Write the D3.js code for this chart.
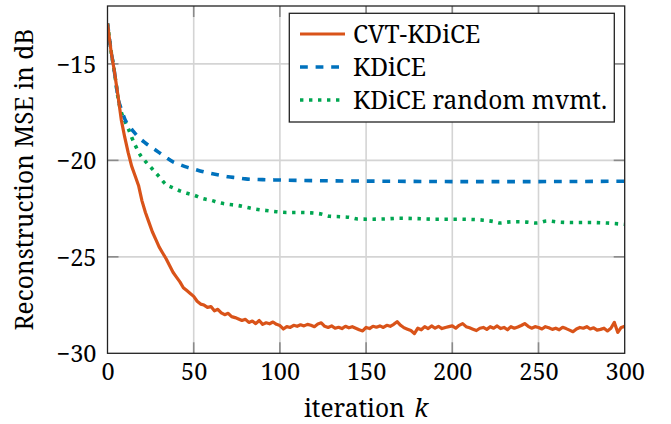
<!DOCTYPE html>
<html>
<head>
<meta charset="utf-8">
<script src="https://cdn.jsdelivr.net/npm/d3@7"></script>
</head>
<body style="margin:0">
<svg id="fig" width="671" height="424"></svg>
<script>
// ---------- data ----------
const seriesNames = ["CVT-KDiCE", "KDiCE", "KDiCE random mvmt."];
const xTicks = [0, 50, 100, 150, 200, 250, 300];
const yTicks = [-30, -25, -20, -15];

// CVT-KDiCE, every 2 iterations from 0 to 300
const cvtIter = d3.range(0, 301, 2);
const cvtMse = [
  -12.9, -14.3, -15.4, -16.6, -17.9, -18.8, -19.6, -20.3, -20.8, -21.3,
  -22.1, -22.7, -23.2, -23.7, -24.1, -24.5, -24.8, -25.1, -25.45, -25.8,
  -26.05, -26.3, -26.6, -26.75, -26.9, -27.05, -27.3, -27.45, -27.5, -27.62,
  -27.58, -27.8, -27.72, -27.9, -28.0, -27.93, -28.1, -28.15, -28.22, -28.3,
  -28.24, -28.4, -28.33, -28.46, -28.3, -28.5, -28.42, -28.47, -28.38, -28.5,
  -28.56, -28.74, -28.62, -28.66, -28.55, -28.6, -28.52, -28.58, -28.5, -28.55,
  -28.62, -28.48, -28.42, -28.6, -28.66, -28.58, -28.7, -28.65, -28.72, -28.6,
  -28.68, -28.62, -28.7, -28.78, -28.84, -28.66, -28.72, -28.6, -28.65, -28.58,
  -28.66, -28.55, -28.6, -28.5, -28.36, -28.55, -28.68, -28.75, -28.82, -28.98,
  -28.7, -28.78, -28.62, -28.72, -28.58, -28.7, -28.6, -28.72, -28.66, -28.62,
  -28.58, -28.7, -28.55, -28.46, -28.62, -28.68, -28.75, -28.82, -28.7, -28.66,
  -28.76, -28.62, -28.7, -28.58, -28.72, -28.66, -28.78, -28.62, -28.7, -28.64,
  -28.56, -28.46, -28.6, -28.7, -28.62, -28.66, -28.74, -28.62, -28.68, -28.76,
  -28.7, -28.78, -28.65, -28.72, -28.8, -28.88, -28.74, -28.66, -28.7, -28.62,
  -28.74, -28.68, -28.8, -28.76, -28.7, -28.84, -28.7, -28.4, -28.92, -28.66,
  -28.6
];

// KDiCE
const kdIter = [0, 1, 2, 3, 4, 5, 6, 8, 10, 12, 15, 18, 22, 26, 30, 34, 38, 42, 46, 50, 55, 60, 65, 70, 75, 80, 90, 100, 120, 140, 160, 200, 250, 300];
const kdMse = [-12.9, -13.6, -14.3, -14.85, -15.4, -16.05, -16.7, -17.35, -17.85, -18.15, -18.5, -18.8, -19.1, -19.35, -19.6, -19.85, -20.08, -20.22, -20.35, -20.45, -20.58, -20.68, -20.77, -20.85, -20.9, -20.96, -21.0, -21.02, -21.05, -21.07, -21.08, -21.1, -21.1, -21.08];

// KDiCE random movement
const rmIter = [0, 1, 2, 3, 4, 5, 6, 8, 10, 12, 14, 16, 19, 22, 26, 30, 34, 38, 42, 46, 50, 55, 60, 65, 70, 75, 80, 86, 92, 98, 104, 110, 118, 124, 129, 135, 140, 145, 152, 160, 170, 180, 190, 200, 210, 218, 224, 228, 232, 237, 243, 249, 255, 262, 270, 280, 290, 300];
const rmMse = [-12.9, -13.6, -14.3, -14.85, -15.4, -16.05, -16.7, -17.5, -17.95, -18.34, -18.8, -19.2, -19.72, -20.05, -20.45, -20.85, -21.25, -21.42, -21.58, -21.7, -21.8, -21.97, -22.07, -22.2, -22.28, -22.33, -22.42, -22.53, -22.6, -22.66, -22.7, -22.7, -22.72, -22.78, -22.9, -22.92, -22.95, -23.04, -23.05, -23.04, -23.0, -23.02, -23.05, -23.05, -23.06, -23.1, -23.17, -23.25, -23.2, -23.18, -23.2, -23.25, -23.14, -23.2, -23.22, -23.22, -23.25, -23.32];

// ---------- layout ----------
const FONT = "'Noto Serif', 'Liberation Serif', serif";
const svg = d3.select("#fig");
const L = 107.5, R = 624.7, T = 6, B = 353.3;
const x = d3.scaleLinear().domain([0, 300]).range([L, R]);
const y = d3.scaleLinear().domain([-30, -12]).range([B, T]);

const gridColor = "#d4d4d4";
const tickColor = "#8a8a8a";

svg.append("g").selectAll("line").data(xTicks.slice(1, -1)).join("line")
  .attr("x1", d => x(d)).attr("x2", d => x(d)).attr("y1", T).attr("y2", B)
  .attr("stroke", gridColor).attr("stroke-width", 1.6);
svg.append("g").selectAll("line").data(yTicks.slice(1)).join("line")
  .attr("y1", d => y(d)).attr("y2", d => y(d)).attr("x1", L).attr("x2", R)
  .attr("stroke", gridColor).attr("stroke-width", 1.6);

const tl = 11;
const tg = svg.append("g").attr("stroke", tickColor).attr("stroke-width", 1.6);
xTicks.slice(1, -1).forEach(d => {
  tg.append("line").attr("x1", x(d)).attr("x2", x(d)).attr("y1", B).attr("y2", B - tl);
  tg.append("line").attr("x1", x(d)).attr("x2", x(d)).attr("y1", T).attr("y2", T + tl);
});
yTicks.slice(1).forEach(d => {
  tg.append("line").attr("y1", y(d)).attr("y2", y(d)).attr("x1", L).attr("x2", L + tl);
  tg.append("line").attr("y1", y(d)).attr("y2", y(d)).attr("x1", R).attr("x2", R - tl);
});

const fmt = d => d < 0 ? "\u2212" + Math.abs(d) : String(d);
const xAxis = svg.append("g").attr("transform", `translate(0,${B})`)
  .call(d3.axisBottom(x).tickValues(xTicks).tickFormat(fmt).tickSize(0).tickPadding(9));
const yAxis = svg.append("g").attr("transform", `translate(${L},0)`)
  .call(d3.axisLeft(y).tickValues(yTicks).tickFormat(fmt).tickSize(0).tickPadding(11));
[xAxis, yAxis].forEach(a => {
  a.select(".domain").remove();
  a.selectAll("text").attr("fill", "#000")
    .style("font-family", FONT).style("font-size", "23.5px");
});
xAxis.selectAll("text").attr("dy", "0.76em");
yAxis.selectAll("text").attr("dy", "0.36em");

svg.append("clipPath").attr("id", "clip").append("rect")
  .attr("x", L).attr("y", T).attr("width", R - L).attr("height", B - T);

const line = d3.line().x(d => x(d[0])).y(d => y(d[1]));
const plot = svg.append("g").attr("clip-path", "url(#clip)");

const colors = ["#D95319", "#0072BD", "#00A651"];
plot.append("path").datum(d3.zip(rmIter, rmMse))
  .attr("d", line.curve(d3.curveMonotoneX)).attr("fill", "none")
  .attr("stroke", colors[2]).attr("stroke-width", 3.6).attr("stroke-dasharray", "3.4,5.6");
plot.append("path").datum(d3.zip(kdIter, kdMse))
  .attr("d", line.curve(d3.curveMonotoneX)).attr("fill", "none")
  .attr("stroke", colors[1]).attr("stroke-width", 3.6).attr("stroke-dasharray", "7.8,7.8");
plot.append("path").datum(d3.zip(cvtIter, cvtMse))
  .attr("d", line.curve(d3.curveLinear)).attr("fill", "none")
  .attr("stroke", colors[0]).attr("stroke-width", 3.2).attr("stroke-linejoin", "round");

svg.append("rect").attr("x", L).attr("y", T).attr("width", R - L).attr("height", B - T)
  .attr("fill", "none").attr("stroke", "#222").attr("stroke-width", 1.3);

const lg = svg.append("g");
lg.append("rect").attr("x", 289.3).attr("y", 13.3).attr("width", 325).attr("height", 108.7)
  .attr("fill", "#fff").attr("stroke", "#222").attr("stroke-width", 1.3);
const dashes = [null, "7.8,7.8", "3.4,5.6"];
const widths = [3.2, 3.6, 3.6];
seriesNames.forEach((name, i) => {
  const cy = 34 + i * 33;
  lg.append("line").attr("x1", 300).attr("x2", 345).attr("y1", cy).attr("y2", cy)
    .attr("stroke", colors[i]).attr("stroke-width", widths[i])
    .attr("stroke-dasharray", dashes[i]);
  lg.append("text").attr("x", 353).attr("y", cy + 8.5)
    .attr("fill", "#000").style("font-size", "24.5px")
    .style("font-family", FONT)
    .text(name);
});

svg.append("text").attr("x", (L + R) / 2).attr("y", 416.5).attr("text-anchor", "middle")
  .attr("fill", "#000").style("font-size", "24.5px").style("font-family", FONT)
  .html('iteration <tspan font-style="italic" dx="3">k</tspan>');
svg.append("text").attr("transform", `translate(33,${(T + B) / 2}) rotate(-90)`)
  .attr("text-anchor", "middle").attr("fill", "#000").style("font-size", "24.5px")
  .style("font-family", FONT)
  .text("Reconstruction MSE in dB");
</script>
</body>
</html>
